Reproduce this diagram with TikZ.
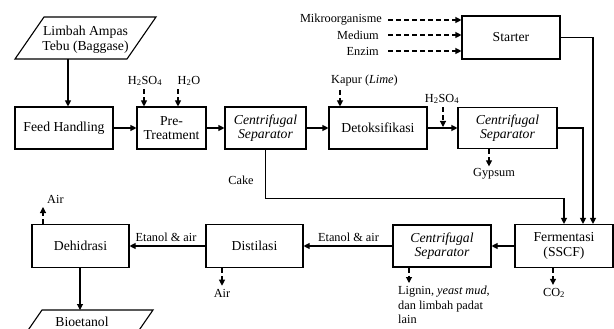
\documentclass[tikz,border=0pt]{standalone}
\usepackage{fontspec}
\setmainfont{Liberation Serif}
\usetikzlibrary{arrows.meta}
\begin{document}
\begin{tikzpicture}[x=1pt,y=-1pt,
  box/.style={draw, line width=1.1pt, inner sep=0pt, align=center, font=\fontsize{13.7}{14.5}\selectfont},
  btxt/.style={inner sep=0pt, align=center, font=\fontsize{13.7}{14.5}\selectfont},
  lbl/.style={inner sep=0pt, font=\fontsize{12.3}{14.5}\selectfont},
  arr/.style={line width=1.1pt, -{Triangle[length=6pt,width=6pt]}},
  darr/.style={arr, dash pattern=on 5pt off 3pt},
  plain/.style={line width=1.1pt}]
\useasboundingbox (0,0) rectangle (614,329);
\clip (0,0) rectangle (614,329);

% parallelogram input
\draw[plain] (44,17) -- (156,17) -- (127,59) -- (15,59) -- cycle;
\node[btxt] (limbah) at (85.5,39.5) {Limbah Ampas\\Tebu (Baggase)};
\coordinate (limbot) at (68,59);

% boxes
\node[box, minimum width=98pt, minimum height=42pt] (fh) at (64,128) {Feed Handling};
\node[box, minimum width=69pt, minimum height=42pt] (pt) at (171.5,128) {Pre-\\Treatment};
\node[box, minimum width=81pt, minimum height=42pt] (cs1) at (265.5,128) {\itshape Centrifugal\\\itshape Separator};
\node[box, minimum width=98pt, minimum height=42pt] (detox) at (378,128) {Detoksifikasi};
\node[box, minimum width=99pt, minimum height=41pt] (cs2) at (507.5,128) {\itshape Centrifugal\\\itshape Separator};
\node[box, minimum width=98pt, minimum height=43pt] (starter) at (511,37.5) {Starter};
\node[box, minimum width=98pt, minimum height=43pt] (ferm) at (564,246) {Fermentasi\\(SSCF)};
\node[box, minimum width=98pt, minimum height=42pt] (cs3) at (442,246) {\itshape Centrifugal\\\itshape Separator};
\node[box, minimum width=97pt, minimum height=43pt] (dist) at (254.5,246) {Distilasi};
\node[box, minimum width=97pt, minimum height=43pt] (dehi) at (80.5,246) {Dehidrasi};

% output parallelogram
\draw[plain] (42,310) -- (153,310) -- (124,352) -- (13,352) -- cycle;
\node[btxt] (bio) at (82,322) {Bioetanol};
\coordinate (biotop) at (80,310);

% labels
\node[lbl] (lh2so4a) at (145,81) {H\textsubscript{2}SO\textsubscript{4}};
\node[lbl] (lh2o) at (189,81) {H\textsubscript{2}O};
\node[lbl] (lkapur) at (364.5,81) {Kapur (\textit{Lime})};
\node[lbl] (lh2so4b) at (442,99) {H\textsubscript{2}SO\textsubscript{4}};
\node[lbl, anchor=east] (lmikro) at (382,20) {Mikroorganisme};
\node[lbl, anchor=east] (lmedium) at (379,35) {Medium};
\node[lbl, anchor=east] (lenzim) at (379,51) {Enzim};
\node[lbl] (lgyp) at (494,174) {Gypsum};
\node[lbl] (lcake) at (241,180) {Cake};
\node[lbl] (lco2) at (554,293) {CO\textsubscript{2}};
\node[lbl, anchor=north west, align=left] (llig) at (398,286) {Lignin, \textit{yeast mud},\\dan limbah padat\\lain};
\node[lbl] (letan1) at (348.5,237) {Etanol \& air};
\node[lbl] (letan2) at (166,237) {Etanol \& air};
\node[lbl] (lair1) at (222,293) {Air};
\node[lbl, anchor=west] (lair2) at (47,199) {Air};

% main connectors
\draw[arr] (limbot) -- (limbot |- fh.north);
\draw[arr] (fh) -- (pt);
\draw[arr] (pt) -- (cs1);
\draw[arr] (cs1) -- (detox);
\draw[arr] (detox) -- (cs2);
\draw[arr] (starter.east) -| ([xshift=29pt]ferm.north);
\draw[arr] (cs2.east) -| ([xshift=19pt]ferm.north);
\draw[arr] (cs1.south) -- ++(0,49) -| (ferm.north);
\draw[arr] (ferm) -- (cs3);
\draw[arr] (cs3) -- (dist);
\draw[arr] (dist) -- (dehi);
\draw[arr] (dehi.south -| biotop) -- (biotop);

% dashed inputs/outputs
\draw[darr] ([yshift=-3pt]lh2so4a.south -| 144,0) -- (pt.north -| 144,0);
\draw[darr] ([yshift=-3pt]lh2o.south -| 178,0) -- (pt.north -| 178,0);
\draw[darr] ([yshift=-3pt]lkapur.south -| 340,0) -- (detox.north -| 340,0);
\draw[darr] ([yshift=-3pt]lh2so4b.south -| 443,0) -- (443,127);
\draw[darr] ([xshift=6pt]lmikro.east) -- (starter.west |- lmikro.east);
\draw[darr] ([xshift=9pt]lmedium.east) -- (starter.west |- lmedium.east);
\draw[darr] ([xshift=9pt]lenzim.east) -- (starter.west |- lenzim.east);
\draw[darr] (cs2.south -| 489,0) -- ([yshift=2pt]lgyp.north -| 489,0);
\draw[darr] (ferm.south -| 553,0) -- ([yshift=3pt]lco2.north -| 553,0);
\draw[darr] (cs3.south -| 409,0) -- (409,283);
\draw[darr] (dist.south -| 222,0) -- ([yshift=3pt]lair1.north -| 222,0);
\draw[darr] (dehi.north -| 43,0) -- (43,207);
\end{tikzpicture}
\end{document}
